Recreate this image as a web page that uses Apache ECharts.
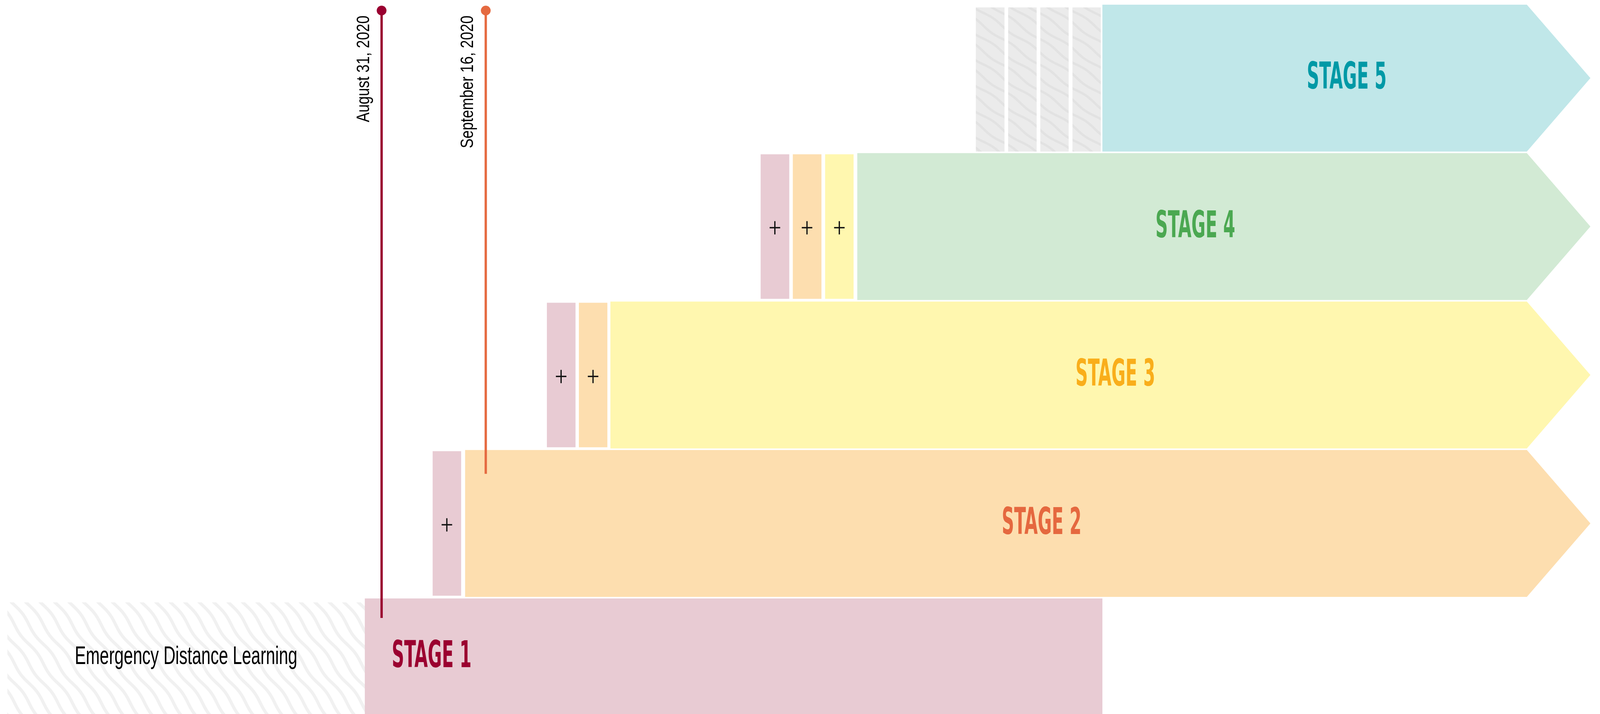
<!DOCTYPE html>
<html><head><meta charset="utf-8">
<script src="https://cdn.jsdelivr.net/npm/echarts@6/dist/echarts.min.js"></script>
<style>html,body{margin:0;padding:0;background:#fff;overflow:hidden}#c{width:100vw;height:100vh;}</style>
</head><body><div id="c"></div>
<script>
// ---------------- DATA ----------------
const stageNames = ['STAGE 1', 'STAGE 2', 'STAGE 3', 'STAGE 4', 'STAGE 5'];
const stageRow = [1, 2, 3, 4, 5];
const stageStart = [22.8, 29.07, 38.15, 53.58, 68.9];
const stageEnd = [68.9, 99.4, 99.4, 99.4, 99.4];
const stageOpenEnded = [0, 1, 1, 1, 1];

const priorLabel = 'Emergency Distance Learning';
const priorStart = 0.46;
const priorEnd = 22.8;
const priorRow = 1;

const addonRow = [2, 3, 3, 4, 4, 4];
const addonStage = [1, 1, 2, 1, 2, 3];
const addonStart = [27.04, 34.18, 36.18, 47.54, 49.55, 51.57];
const addonEnd = [28.82, 35.97, 37.96, 49.33, 51.34, 53.35];
const addonSymbol = '+';

const pendingRow = [5, 5, 5, 5];
const pendingStart = [60.99, 63.01, 65.02, 67.03];
const pendingEnd = [62.78, 64.79, 66.79, 68.80];

const markerLabels = ['August 31, 2020', 'September 16, 2020'];
const markerX = [23.85, 30.36];
const markerTop = [5.455, 5.455];
const markerBottom = [1.363, 2.334];

// visible window of the row axis
const rowAxisMin = 0.716;
const rowAxisMax = 5.526;

// ---------------- STYLE ----------------
const stageFill = ['#E8CBD3', '#FDDEAF', '#FFF7AF', '#D2EAD4', '#C0E7E9'];
const stageInk = ['#9B0030', '#E5683F', '#F9AE1B', '#4BA851', '#0099A6'];
const stageLabelX = [24.49, 65.1, 69.71, 74.71, 84.17];
const markerColor = ['#9A0030', '#E56A40'];
const condensed = '"Liberation Sans Narrow", "DejaVu Sans Condensed", "Liberation Sans", sans-serif';
const regular = '"Liberation Sans", Arial, sans-serif';

const dom = document.getElementById('c');
const W = dom.clientWidth || window.innerWidth, H = dom.clientHeight || window.innerHeight;
const kx = W / 4737, ky = H / 1829;

const mctx = document.createElement('canvas').getContext('2d');
function fitScale(text, weight, size, family, target) {
  mctx.font = weight + ' ' + size + 'px ' + family;
  return target / mctx.measureText(text).width;
}
const stageSize = 94 * ky, dateSize = 53 * ky, priorSize = 64 * ky, plusSize = 64 * ky;
const stageScale = fitScale('STAGE 5', 'bold', stageSize, condensed, 236 * kx);
const dateScale = fitScale(markerLabels[0], 'normal', dateSize, regular, 273 * ky);
const priorScale = fitScale(priorLabel, 'normal', priorSize, regular, 659 * kx);

function makeTile(TW, TH, bg, stroke, lw, amp, waves) {
  const c = document.createElement('canvas');
  c.width = TW; c.height = TH;
  const g = c.getContext('2d');
  g.fillStyle = bg; g.fillRect(0, 0, TW, TH);
  g.strokeStyle = stroke; g.lineWidth = lw; g.lineCap = 'round'; g.lineJoin = 'round';
  const L = Math.hypot(TW, TH), nx = -TH / L, ny = TW / L;
  for (let off = -2 * TW; off <= 2 * TW; off += TW / 2) {
    g.beginPath();
    for (let i = 0; i <= 300; i++) {
      const t = -1 + i / 100;
      const w = amp * Math.sin(2 * Math.PI * waves * t);
      const x = off + t * TW + w * nx, y = t * TH + w * ny;
      if (i === 0) g.moveTo(x, y); else g.lineTo(x, y);
    }
    g.stroke();
  }
  return c;
}
const priorPattern = { image: makeTile(Math.round(86 * kx), 100, '#FFFFFF', '#F1F1F1', 8, 3.5, 1), repeat: 'repeat' };
const pendingPattern = { image: makeTile(Math.round(110 * kx), 66, '#EBEBEB', '#E2E2E2', 6, 3, 1), repeat: 'repeat' };

function txt(x, y, text, o) {
  return {
    type: 'text', x: x, y: y, rotation: o.rotation || 0, scaleX: o.scaleX || 1, scaleY: o.scaleY || 1,
    style: {
      text: text, fill: o.fill, fontSize: o.size, fontFamily: o.family, fontWeight: o.weight || 'normal',
      align: o.align || 'center', verticalAlign: o.valign || 'middle',
      textAlign: o.align || 'center', textVerticalAlign: o.valign || 'middle'
    }
  };
}

const chart = echarts.init(dom, null, { renderer: 'canvas' });
chart.setOption({
  animation: false,
  backgroundColor: '#ffffff',
  grid: { left: 0, right: 0, top: 0, bottom: 0 },
  xAxis: { type: 'value', min: 0, max: 100, show: false },
  yAxis: { type: 'value', min: rowAxisMin, max: rowAxisMax, show: false },
  series: [
    {
      type: 'custom', z: 1, clip: false,
      data: [[priorStart, priorEnd, priorRow]],
      encode: { x: [0, 1], y: 2 },
      renderItem: function (params, api) {
        const r = api.value(2);
        const p0 = api.coord([api.value(0), r]), p1 = api.coord([api.value(1), r]);
        const band = api.size([0, 1])[1];
        const top = p0[1] - band / 2 + 2 + 10 * ky, bottom = p0[1] + band / 2;
        return {
          type: 'group', children: [
            { type: 'rect', shape: { x: p0[0], y: top, width: p1[0] - p0[0], height: bottom - top }, style: { fill: priorPattern } },
            txt((p0[0] + p1[0]) / 2, p0[1] - 38 * ky, priorLabel, { fill: '#000000', size: priorSize, family: regular, scaleX: priorScale })
          ]
        };
      }
    },
    {
      type: 'custom', z: 2, clip: false,
      data: stageNames.map((n, i) => [stageStart[i], stageEnd[i], stageRow[i], stageOpenEnded[i], i]),
      encode: { x: [0, 1], y: 2 },
      renderItem: function (params, api) {
        const i = api.value(4), r = api.value(2);
        const p0 = api.coord([api.value(0), r]), x1 = api.coord([api.value(1), r])[0];
        const cy = p0[1], x0 = p0[0];
        const band = api.size([0, 1])[1];
        const half = band / 2 - 2 * ky;
        const tip = half * kx / ky;
        const top = cy - half, bottom = cy + half;
        const pts = api.value(3) ? [[x0, top], [x1 - tip, top], [x1, cy], [x1 - tip, bottom], [x0, bottom]]
                                 : [[x0, top], [x1, top], [x1, bottom], [x0, bottom]];
        const lx = api.coord([stageLabelX[i], r])[0];
        const ly = i === 0 ? cy - 36 * ky : cy + 3 * ky;
        return {
          type: 'group', children: [
            { type: 'polygon', shape: { points: pts }, style: { fill: stageFill[i] } },
            txt(lx, ly, stageNames[i], { fill: stageInk[i], size: stageSize, family: condensed, weight: 'bold', scaleX: stageScale, align: i === 0 ? 'left' : 'center' })
          ]
        };
      }
    },
    {
      type: 'custom', z: 3, clip: false,
      data: addonRow.map((r, i) => [addonStart[i], addonEnd[i], r, addonStage[i] - 1]),
      encode: { x: [0, 1], y: 2 },
      renderItem: function (params, api) {
        const r = api.value(2), c = api.value(3);
        const p0 = api.coord([api.value(0), r]), x1 = api.coord([api.value(1), r])[0];
        const band = api.size([0, 1])[1];
        const half = band / 2 - 5 * ky;
        return {
          type: 'group', children: [
            { type: 'rect', shape: { x: p0[0], y: p0[1] - half, width: x1 - p0[0], height: 2 * half }, style: { fill: stageFill[c] } },
            txt((p0[0] + x1) / 2, p0[1] + 9 * ky, addonSymbol, { fill: '#111111', size: plusSize, family: 'Roboto, "Noto Sans", sans-serif', weight: 300, scaleX: Math.min(1, kx / ky) })
          ]
        };
      }
    },
    {
      type: 'custom', z: 3, clip: false,
      data: pendingRow.map((r, i) => [pendingStart[i], pendingEnd[i], r]),
      encode: { x: [0, 1], y: 2 },
      renderItem: function (params, api) {
        const r = api.value(2);
        const p0 = api.coord([api.value(0), r]), x1 = api.coord([api.value(1), r])[0];
        const band = api.size([0, 1])[1];
        const half = band / 2 - 2 * ky;
        return { type: 'rect', shape: { x: p0[0], y: p0[1] - half + 7 * ky, width: x1 - p0[0], height: 2 * half - 7 * ky }, style: { fill: pendingPattern } };
      }
    },
    {
      type: 'custom', z: 5, clip: false,
      data: markerLabels.map((l, i) => [markerX[i], markerTop[i], markerBottom[i], i]),
      encode: { x: 0, y: [1, 2] },
      renderItem: function (params, api) {
        const i = api.value(3);
        const pt = api.coord([api.value(0), api.value(1)]);
        const pb = api.coord([api.value(0), api.value(2)]);
        return {
          type: 'group', children: [
            { type: 'line', shape: { x1: pt[0], y1: pt[1], x2: pb[0], y2: pb[1] }, style: { stroke: markerColor[i], lineWidth: 6 } },
            { type: 'circle', shape: { cx: pt[0], cy: pt[1], r: 12.5 }, style: { fill: markerColor[i] } },
            txt(pt[0] - 52 * kx, pt[1] + 13 * ky, markerLabels[i], { fill: '#000000', size: dateSize, family: regular, scaleX: dateScale, scaleY: Math.min(1, kx / ky), rotation: Math.PI / 2, align: 'right' })
          ]
        };
      }
    }
  ]
});
</script></body></html>
